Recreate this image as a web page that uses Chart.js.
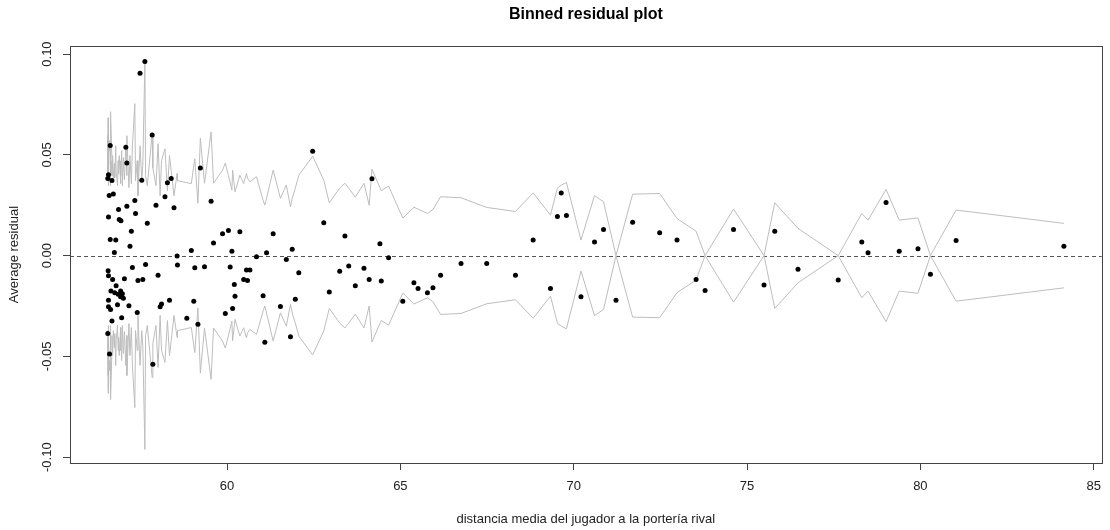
<!DOCTYPE html>
<html>
<head>
<meta charset="utf-8">
<script src="https://cdn.jsdelivr.net/npm/chart.js@4"></script>
<style>
  body { margin: 0; background: #fff; }
  canvas { display: block; }
</style>
</head>
<body>
<canvas id="binned" width="1110" height="530"></canvas>
<script>
// mean distance of each bin
var binX = [
  56.56, 56.56, 56.57, 56.58, 56.58, 56.58, 56.58, 56.58, 56.60, 56.61,
  56.63, 56.63, 56.64, 56.65, 56.68, 56.68, 56.70, 56.72, 56.75, 56.76,
  56.79, 56.80, 56.84, 56.86, 56.87, 56.89, 56.93, 56.93, 56.94, 56.96,
  56.98, 57.01, 57.04, 57.08, 57.11, 57.11, 57.17, 57.20, 57.24, 57.27,
  57.34, 57.36, 57.41, 57.43, 57.49, 57.54, 57.57, 57.63, 57.65, 57.70,
  57.84, 57.86, 57.95, 58.01, 58.07, 58.11, 58.21, 58.28, 58.34, 58.39,
  58.47, 58.56, 58.57, 58.84, 58.97, 59.04, 59.07, 59.16, 59.23, 59.35,
  59.54, 59.61, 59.87, 59.95, 60.04, 60.09, 60.14, 60.16, 60.21, 60.23,
  60.37, 60.48, 60.56, 60.59, 60.66, 60.85, 61.04, 61.09, 61.14, 61.33,
  61.54, 61.71, 61.83, 61.88, 61.97, 62.07, 62.47, 62.79, 62.95, 63.25,
  63.40, 63.51, 63.70, 63.95, 64.10, 64.18, 64.41, 64.45, 64.66, 65.07,
  65.39, 65.51, 65.78, 65.94, 66.16, 66.75, 67.49, 68.32, 68.83, 69.33,
  69.53, 69.64, 69.79, 70.21, 70.60, 70.86, 71.22, 71.70, 72.48, 72.98,
  73.53, 73.79, 74.61, 75.49, 75.80, 76.47, 77.63, 78.31, 78.49, 79.01,
  79.39, 79.93, 80.29, 81.03, 84.14
];
// average residual of each bin
var binResid = [
  0.0383, -0.0386, -0.0075, 0.0401, 0.0192, -0.0100, -0.0221, -0.0254, 0.0298, -0.0488,
  0.0546, 0.0080, -0.0267, -0.0176, -0.0325, 0.0373, -0.0118, 0.0306, 0.0016, -0.0184,
  0.0077, -0.0150, -0.0244, -0.0192, 0.0229, 0.0179, -0.0175, -0.0204, 0.0173, -0.0308,
  -0.0189, -0.0212, -0.0115, 0.0538, 0.0459, 0.0245, -0.0249, 0.0047, 0.0121, -0.0059,
  0.0274, 0.0209, -0.0282, -0.0123, 0.0905, 0.0374, -0.0118, 0.0963, -0.0044, 0.0160,
  0.0599, -0.0539, 0.0250, -0.0097, -0.0254, -0.0240, 0.0292, 0.0361, -0.0221, 0.0383,
  0.0237, -0.0002, -0.0047, -0.0311, 0.0025, -0.0226, -0.0060, -0.0340, 0.0435, -0.0055,
  0.0270, 0.0063, 0.0108, -0.0287, 0.0125, -0.0056, 0.0022, -0.0262, -0.0143, -0.0202,
  0.0118, -0.0118, -0.0072, -0.0123, -0.0072, -0.0006, -0.0199, -0.0430, 0.0014, 0.0108,
  -0.0252, -0.0019, -0.0403, 0.0032, -0.0217, -0.0085, 0.0518, 0.0163, -0.0181, -0.0077,
  0.0097, -0.0052, -0.0150, -0.0063, -0.0118, 0.0381, 0.0059, -0.0126, -0.0011, -0.0226,
  -0.0135, -0.0163, -0.0184, -0.0159, -0.0098, -0.0039, -0.0039, -0.0098, 0.0077, -0.0163,
  0.0194, 0.0311, 0.0199, -0.0204, 0.0068, 0.0130, -0.0222, 0.0166, 0.0113, 0.0077,
  -0.0118, -0.0173, 0.0130, -0.0146, 0.0121, -0.0068, -0.0121, 0.0067, 0.0014, 0.0264,
  0.0022, 0.0034, -0.0093, 0.0075, 0.0046
];
// 2 standard errors of each bin
var binBand = [
  0.0595, 0.0372, 0.0684, 0.0446, 0.0545, 0.0347, 0.0471, 0.0397, 0.0570, 0.0521,
  0.0555, 0.0421, 0.0347, 0.0714, 0.0471, 0.0397, 0.0496, 0.0372, 0.0456, 0.0387,
  0.0545, 0.0421, 0.0347, 0.0471, 0.0407, 0.0496, 0.0357, 0.0471, 0.0397, 0.0521,
  0.0347, 0.0486, 0.0377, 0.0545, 0.0397, 0.0595, 0.0337, 0.0496, 0.0357, 0.0545,
  0.0754, 0.0372, 0.0471, 0.0297, 0.0545, 0.0372, 0.0446, 0.0962, 0.0397, 0.0347,
  0.0605, 0.0436, 0.0347, 0.0555, 0.0297, 0.0471, 0.0530, 0.0322, 0.0496, 0.0421,
  0.0297, 0.0407, 0.0372, 0.0362, 0.0357, 0.0446, 0.0481, 0.0260, 0.0583, 0.0359,
  0.0614, 0.0359, 0.0424, 0.0459, 0.0397, 0.0362, 0.0325, 0.0424, 0.0347, 0.0316,
  0.0399, 0.0358, 0.0408, 0.0384, 0.0366, 0.0391, 0.0275, 0.0250, 0.0285, 0.0424,
  0.0284, 0.0350, 0.0242, 0.0285, 0.0335, 0.0399, 0.0493, 0.0374, 0.0262, 0.0335,
  0.0359, 0.0335, 0.0290, 0.0359, 0.0250, 0.0429, 0.0337, 0.0322, 0.0345, 0.0186,
  0.0240, 0.0231, 0.0209, 0.0229, 0.0292, 0.0287, 0.0239, 0.0219, 0.0311, 0.0201,
  0.0335, 0.0350, 0.0363, 0.0077, 0.0298, 0.0267, 0, 0.0305, 0.0308, 0.0184,
  0.0121, 0, 0.0231, 0, 0.0262, 0.0135, 0, 0.0209, 0.0176, 0.0328,
  0.0176, 0.0187, 0, 0.0226, 0.0160
];

var xTicks = [60, 65, 70, 75, 80, 85];
var yTicks = [-0.10, -0.05, 0, 0.05, 0.10];

var fontFam = '"Liberation Sans", Arial, sans-serif';

var pts = binX.map(function (x, i) { return { x: x, y: binResid[i] }; });
var upper = binX.map(function (x, i) { return { x: x, y: binBand[i] }; });
var lower = binX.map(function (x, i) { return { x: x, y: -binBand[i] }; });

// dashed zero line and the box round the plot
var frame = {
  id: 'frame',
  beforeDatasetsDraw: function (chart) {
    var ctx = chart.ctx, a = chart.chartArea;
    var y0 = Math.round(chart.scales.y.getPixelForValue(0)) + 0.5;
    ctx.save();
    ctx.strokeStyle = '#555';
    ctx.lineWidth = 1;
    ctx.setLineDash([4, 3]);
    ctx.beginPath();
    ctx.moveTo(a.left, y0);
    ctx.lineTo(a.right, y0);
    ctx.stroke();
    ctx.restore();
  },
  afterDraw: function (chart) {
    var ctx = chart.ctx, a = chart.chartArea;
    ctx.save();
    ctx.strokeStyle = '#444';
    ctx.lineWidth = 1;
    ctx.strokeRect(Math.round(a.left) + 0.5, Math.round(a.top) + 0.5,
      Math.round(a.right - a.left), Math.round(a.bottom - a.top));
    ctx.restore();
  }
};

new Chart(document.getElementById('binned').getContext('2d'), {
  type: 'scatter',
  data: {
    datasets: [
      {
        data: upper, showLine: true, borderColor: '#bdbdbd', borderWidth: 1,
        pointRadius: 0, tension: 0, order: 2
      },
      {
        data: lower, showLine: true, borderColor: '#bdbdbd', borderWidth: 1,
        pointRadius: 0, tension: 0, order: 2
      },
      {
        data: pts, pointRadius: 2.5, pointBackgroundColor: '#000',
        pointBorderWidth: 0, order: 1
      }
    ]
  },
  options: {
    responsive: false,
    devicePixelRatio: 1,
    animation: false,
    layout: { padding: { top: 0, right: 4, bottom: 0, left: 0 } },
    plugins: {
      legend: { display: false },
      tooltip: { enabled: false },
      title: {
        display: true,
        fullSize: false,
        text: 'Binned residual plot',
        color: '#000',
        font: { family: fontFam, size: 16, weight: 'bold' },
        padding: { top: 5, bottom: 22 }
      }
    },
    scales: {
      x: {
        type: 'linear',
        min: 55.47,
        max: 85.23,
        border: { display: false },
        grid: { drawOnChartArea: false, drawTicks: true, tickLength: 7, color: '#444' },
        afterBuildTicks: function (s) { s.ticks = xTicks.map(function (v) { return { value: v }; }); },
        afterFit: function (s) { s.height = 67; },
        ticks: {
          padding: 9, color: '#222', maxRotation: 0,
          font: { family: fontFam, size: 13 },
          callback: function (v) { return String(v); }
        },
        title: {
          display: true,
          text: 'distancia media del jugador a la portería rival',
          color: '#222',
          font: { family: fontFam, size: 13 },
          padding: { top: 0, bottom: 3 }
        }
      },
      y: {
        type: 'linear',
        min: -0.1029,
        max: 0.1039,
        border: { display: false },
        grid: { drawOnChartArea: false, drawTicks: true, tickLength: 7, color: '#444' },
        afterBuildTicks: function (s) { s.ticks = yTicks.map(function (v) { return { value: v }; }); },
        afterFit: function (s) { s.width = 70; },
        ticks: {
          padding: 1, color: '#222', minRotation: 90, maxRotation: 90,
          crossAlign: 'center',
          font: { family: fontFam, size: 13 },
          callback: function (v) { return v.toFixed(2); }
        },
        title: {
          display: true,
          text: 'Average residual',
          color: '#222',
          font: { family: fontFam, size: 13 },
          padding: { top: 7, bottom: 0 }
        }
      }
    }
  },
  plugins: [frame]
});
</script>
</body>
</html>
